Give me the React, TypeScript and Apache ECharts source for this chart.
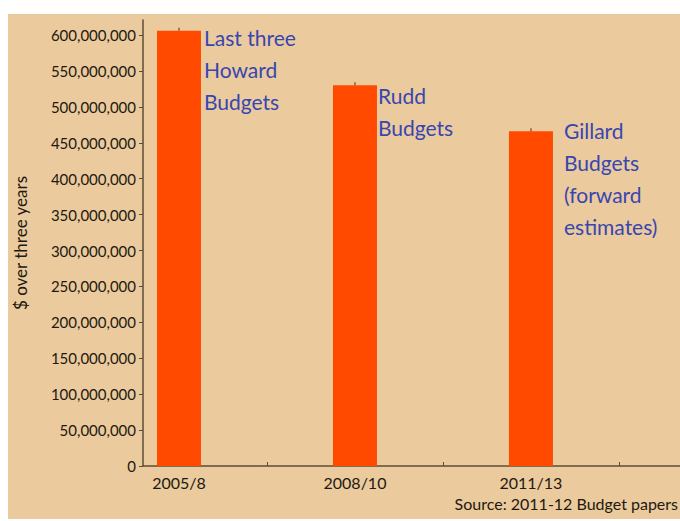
import React, { useEffect, useRef } from "react";
import * as echarts from "echarts";

const categories = ["2005/8", "2008/10", "2011/13"];
const values = [606000000, 530000000, 466000000];
const notes = [
  "Last three\nHoward\nBudgets",
  "Rudd\nBudgets",
  "Gillard\nBudgets\n(forward\nestimates)",
];
const yTicks = [0, 50e6, 100e6, 150e6, 200e6, 250e6, 300e6, 350e6, 400e6, 450e6, 500e6, 550e6, 600e6];
const xTickPositions = [0.5, 1.5, 2.5];
const source = "Source: 2011-12 Budget papers";

const labelOffsets = [[3, -9], [1, -6], [11, -17]];

export default function App() {
  const ref = useRef<HTMLDivElement>(null);
  useEffect(() => {
    document.body.style.margin = "0";
    const chart = echarts.init(ref.current!, null, { renderer: "svg" });
    const textColor = "#22190e";
    const axisColor = "#5e4c36";
    chart.setOption({
      animation: false,
      backgroundColor: "#ffffff",
      graphic: [
        {
          type: "rect",
          z: -10,
          shape: { x: 8, y: 14, width: 672, height: 505 },
          style: { fill: "#EBCA9E" },
          silent: true,
        },
        {
          type: "text",
          right: 2,
          top: 495,
          style: {
            text: source,
            fill: textColor,
            font: "16px Lato",
          },
        },
      ],
      grid: { left: 143, top: 20, width: 537, height: 446, containLabel: false },
      xAxis: {
        type: "value",
        min: -0.2045,
        max: 2.847,
        splitLine: { show: false },
        axisLine: { show: true, onZero: false, lineStyle: { color: axisColor, width: 1.5 } },
        axisTick: {
          show: true,
          inside: true,
          length: 4,
          customValues: xTickPositions,
          lineStyle: { color: axisColor },
        },
        axisLabel: {
          customValues: categories.map((_, i) => i),
          formatter: (v: number) => categories[Math.round(v)] ?? "",
          color: textColor,
          fontFamily: "Lato",
          fontSize: 16,
          margin: 8,
        },
      },
      yAxis: {
        type: "value",
        min: 0,
        max: 621000000,
        name: "$ over three years",
        nameLocation: "middle",
        nameGap: 114,
        nameTextStyle: { color: textColor, fontFamily: "Lato", fontSize: 17 },
        splitLine: { show: false },
        axisLine: { show: true, onZero: false, lineStyle: { color: axisColor, width: 1.5 } },
        axisTick: {
          show: true,
          length: 4,
          customValues: yTicks,
          lineStyle: { color: axisColor },
        },
        axisLabel: {
          customValues: yTicks,
          formatter: (v: number) => v.toLocaleString("en-US"),
          color: textColor,
          fontFamily: "Lato",
          fontSize: 15,
          margin: 7,
        },
      },
      series: [
        {
          type: "bar",
          barWidth: 44,
          itemStyle: { color: "#FF4A00" },
          data: values.map((v, i) => ({
            value: [i, v],
            label: {
              show: true,
              formatter: notes[i],
              position: ["100%", 0],
              offset: labelOffsets[i],
              align: "left",
              verticalAlign: "top",
              color: "#3846B0",
              fontFamily: "Lato",
              fontSize: 21,
              lineHeight: 32,
            },
          })),
        },
        {
          type: "scatter",
          symbol: "rect",
          symbolSize: [1.5, 3],
          symbolOffset: [0, -1.5],
          itemStyle: { color: "#8a3a10" },
          data: values.map((v, i) => [i, v]),
          z: 3,
          silent: true,
        },
      ],
    });
    return () => chart.dispose();
  }, []);
  return <div ref={ref} style={{ width: 680, height: 521 }} />;
}
